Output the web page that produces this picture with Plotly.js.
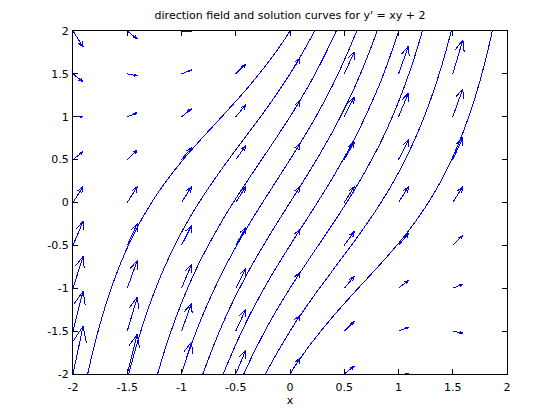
<!DOCTYPE html>
<html>
<head>
<meta charset="utf-8">
<script src="https://cdn.plot.ly/plotly-3.0.1.min.js"></script>
<style>
html,body{margin:0;padding:0;background:#fff;}
#chart{width:560px;height:420px;}
path.js-line{shape-rendering:crispEdges;}
</style>
</head>
<body>
<div id="chart"></div>
<script>
// Direction field grid (arrow bases)
var gridX = [-2, -1.5, -1, -0.5, 0, 0.5, 1, 1.5];
var gridY = [-2, -1.5, -1, -0.5, 0, 0.5, 1, 1.5, 2];
// Slope y' read at each grid point (rows follow gridY, columns follow gridX)
var slopeRowYm20 = [6, 5, 4, 3, 2, 1, 0, -1];
var slopeRowYm15 = [5, 4.25, 3.5, 2.75, 2, 1.25, 0.5, -0.25];
var slopeRowYm10 = [4, 3.5, 3, 2.5, 2, 1.5, 1, 0.5];
var slopeRowYm05 = [3, 2.75, 2.5, 2.25, 2, 1.75, 1.5, 1.25];
var slopeRowY00  = [2, 2, 2, 2, 2, 2, 2, 2];
var slopeRowY05  = [1, 1.25, 1.5, 1.75, 2, 2.25, 2.5, 2.75];
var slopeRowY10  = [0, 0.5, 1, 1.5, 2, 2.5, 3, 3.5];
var slopeRowY15  = [-1, -0.25, 0.5, 1.25, 2, 2.75, 3.5, 4.25];
var slopeRowY20  = [-2, -1, 0, 1, 2, 3, 4, 5];
var slopeRows = [slopeRowYm20, slopeRowYm15, slopeRowYm10, slopeRowYm05, slopeRowY00,
                 slopeRowY05, slopeRowY10, slopeRowY15, slopeRowY20];

// Solution curves, labelled by y(0)
var curveP20x = [-1.9,-1.8,-1.7,-1.6,-1.5,-1.4,-1.3,-1.2,-1.1,-1.0,-0.9,-0.8,-0.6,-0.4,-0.2,-0.1,0,0.1];
var curveP20y = [-2.205,-1.650,-1.201,-0.834,-0.529,-0.271,-0.050,0.144,0.318,0.476,0.624,0.765,1.040,1.323,1.635,1.809,2.000,2.211];
var curveP15x = [-1.6,-1.5,-1.4,-1.3,-1.2,-1.1,-1.0,-0.9,-0.8,-0.6,-0.4,-0.2,0,0.2,0.3];
var curveP15y = [-2.632,-2.069,-1.603,-1.214,-0.883,-0.598,-0.348,-0.126,0.076,0.441,0.781,1.125,1.500,1.936,2.187];
var curveP10x = [-1.3,-1.2,-1.1,-1.0,-0.9,-0.8,-0.6,-0.4,-0.2,0,0.2,0.4,0.5];
var curveP10y = [-2.378,-1.910,-1.514,-1.173,-0.875,-0.612,-0.158,0.239,0.615,1.000,1.426,1.927,2.221];
var curveP05x = [-1.1,-1.0,-0.9,-0.8,-0.6,-0.4,-0.2,0,0.2,0.4,0.6,0.7];
var curveP05y = [-2.429,-1.997,-1.625,-1.301,-0.756,-0.303,0.105,0.500,0.915,1.386,1.954,2.292];
var curve00x  = [-0.9,-0.8,-0.6,-0.4,-0.2,0,0.2,0.4,0.6,0.8,0.9];
var curve00y  = [-2.375,-1.989,-1.355,-0.844,-0.405,0,0.405,0.844,1.355,1.989,2.375];
var curveM05x = [-0.7,-0.6,-0.4,-0.2,0,0.2,0.4,0.6,0.8,0.9,1.0,1.1];
var curveM05y = [-2.292,-1.954,-1.386,-0.915,-0.500,-0.105,0.303,0.756,1.301,1.625,1.997,2.429];
var curveM10x = [-0.5,-0.4,-0.2,0,0.2,0.4,0.6,0.8,0.9,1.0,1.1,1.2,1.3];
var curveM10y = [-2.221,-1.927,-1.426,-1.000,-0.615,-0.239,0.158,0.612,0.875,1.173,1.514,1.910,2.378];
var curveM15x = [-0.3,-0.2,0,0.2,0.4,0.6,0.8,0.9,1.0,1.1,1.2,1.3,1.4,1.5,1.6];
var curveM15y = [-2.187,-1.936,-1.500,-1.125,-0.781,-0.441,-0.076,0.126,0.348,0.598,0.883,1.214,1.603,2.069,2.632];
var curveM20x = [-0.1,0,0.1,0.2,0.4,0.6,0.8,0.9,1.0,1.1,1.2,1.3,1.4,1.5,1.6,1.7,1.8,1.9];
var curveM20y = [-2.211,-2.000,-1.809,-1.635,-1.323,-1.040,-0.765,-0.624,-0.476,-0.318,-0.144,0.050,0.271,0.529,0.834,1.201,1.650,2.205];

// Axis ticks
var tickVals = [-2, -1.5, -1, -0.5, 0, 0.5, 1, 1.5, 2];
var tickText = ['-2', '-1.5', '-1', '-0.5', '0', '0.5', '1', '1.5', '2'];

var titleText = "direction field and solution curves for y' = xy + 2";
var xTitle = 'x';

// Quiver drawing (arrow style like MATLAB quiver)
var arrowScale = 0.093, headLen = 0.33, headWidth = 0.33;
var qx = [], qy = [];
for (var i = 0; i < gridY.length; i++) {
  for (var j = 0; j < gridX.length; j++) {
    var x0 = gridX[j], y0 = gridY[i];
    var u = arrowScale, v = arrowScale * slopeRows[i][j];
    qx.push(x0, x0 + u, null);
    qy.push(y0, y0 + v, null);
    qx.push(x0 + u - headLen * (u + headWidth * v), x0 + u, x0 + u - headLen * (u - headWidth * v), null);
    qy.push(y0 + v - headLen * (v - headWidth * u), y0 + v, y0 + v - headLen * (v + headWidth * u), null);
  }
}

var blue = '#0000ff';
var traces = [{
  x: qx, y: qy, mode: 'lines', type: 'scatter',
  line: {color: blue, width: 1}, hoverinfo: 'skip', connectgaps: false
}];
var curves = [
  [curveP20x, curveP20y], [curveP15x, curveP15y], [curveP10x, curveP10y],
  [curveP05x, curveP05y], [curve00x, curve00y], [curveM05x, curveM05y],
  [curveM10x, curveM10y], [curveM15x, curveM15y], [curveM20x, curveM20y]
];
curves.forEach(function (c) {
  traces.push({
    x: c[0], y: c[1], mode: 'lines', type: 'scatter',
    line: {color: blue, width: 1, shape: 'spline', smoothing: 1}, hoverinfo: 'skip'
  });
});

var axisCommon = {
  range: [-2, 2], tickmode: 'array', tickvals: tickVals, ticktext: tickText,
  ticks: 'inside', ticklen: 5, tickwidth: 1, tickcolor: '#000',
  showline: true, mirror: 'ticks', linecolor: '#000', linewidth: 1,
  showgrid: false, zeroline: false, fixedrange: true,
  tickfont: {family: 'DejaVu Sans', size: 11, color: '#000'}
};
var layout = {
  width: 560, height: 420,
  margin: {l: 73, r: 53, t: 31, b: 46, pad: 0},
  paper_bgcolor: '#fff', plot_bgcolor: '#fff',
  showlegend: false,
  font: {family: 'DejaVu Sans', size: 11, color: '#000'},
  title: {text: titleText, x: 0.5, xref: 'paper', xanchor: 'center',
          y: 1 - 15 / 420, yref: 'container', yanchor: 'middle',
          font: {family: 'DejaVu Sans', size: 11, color: '#000'}},
  xaxis: Object.assign({}, axisCommon, {
    ticklabelstandoff: 3,
    title: {text: xTitle, standoff: 3, font: {family: 'DejaVu Sans', size: 11, color: '#000'}},
    automargin: false
  }),
  yaxis: Object.assign({}, axisCommon, {ticklabelstandoff: 1, automargin: false})
};
Plotly.newPlot('chart', traces, layout, {staticPlot: true, displayModeBar: false});
</script>
</body>
</html>
